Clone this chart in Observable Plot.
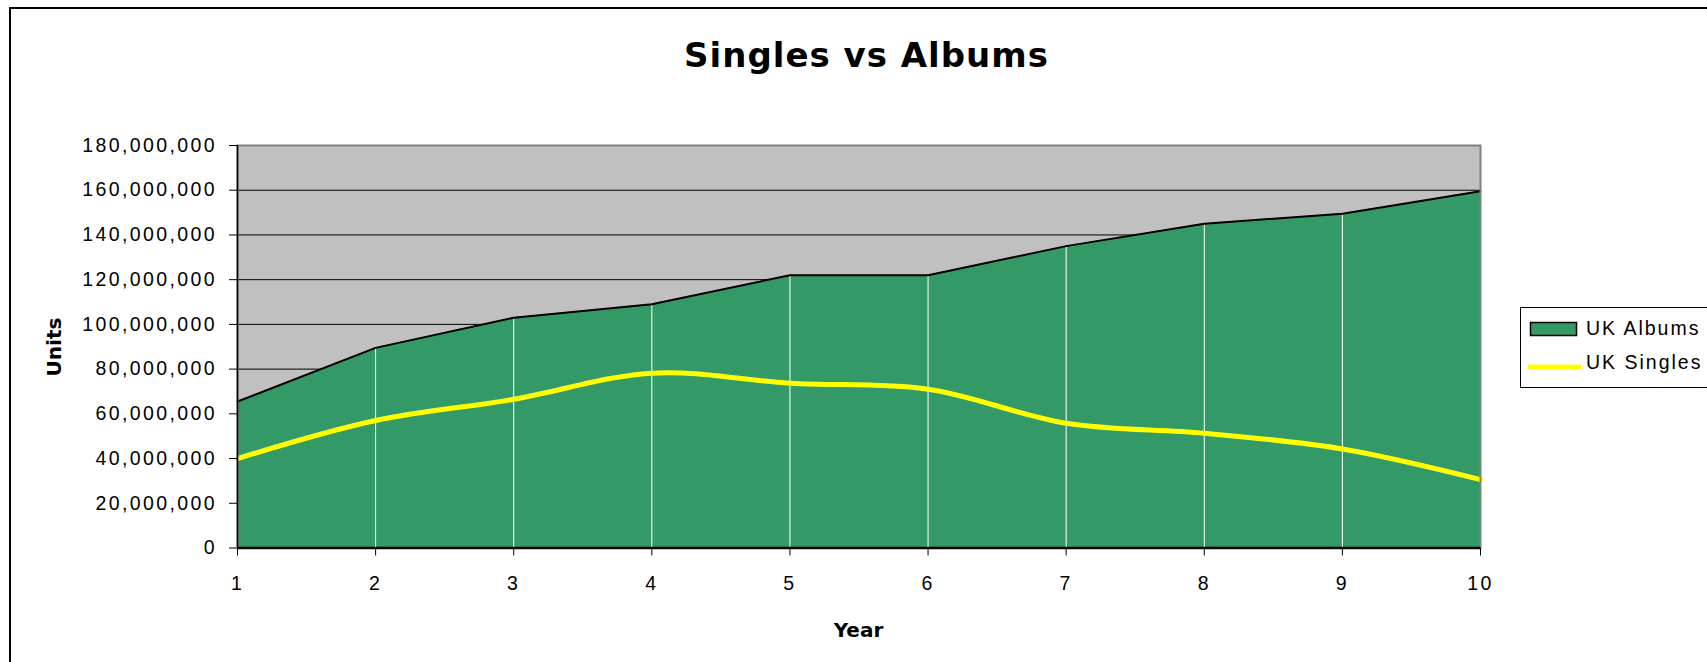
<!DOCTYPE html>
<html>
<head>
<meta charset="utf-8">
<script src="https://cdn.jsdelivr.net/npm/d3@7"></script>
<script src="https://cdn.jsdelivr.net/npm/@observablehq/plot@0.6"></script>
<style>
  html, body { margin: 0; padding: 0; background: #fff; }
  #wrap { position: relative; width: 1707px; height: 662px; overflow: hidden; }
  #wrap > svg { position: absolute; left: 0; top: 0; }
</style>
</head>
<body>
<div id="wrap"></div>
<script>
// ---- Data ----
const years = [1, 2, 3, 4, 5, 6, 7, 8, 9, 10];
const ukAlbums = [65.5e6, 89.5e6, 103e6, 109e6, 122e6, 122e6, 135e6, 145e6, 149.5e6, 159.5e6];
const ukSingles = [40e6, 57e6, 66.5e6, 78.2e6, 73.7e6, 71e6, 55.8e6, 51.3e6, 44.3e6, 30.6e6];
const yTicks = [0, 20e6, 40e6, 60e6, 80e6, 100e6, 120e6, 140e6, 160e6, 180e6];
const seriesNames = ["UK Albums", "UK Singles"];
const chartTitle = "Singles vs Albums";
const xLabel = "Year";
const yLabel = "Units";

const albumsColor = "#339966";
const singlesColor = "#FFFF00";

const data = years.map((year, i) => ({year, albums: ukAlbums[i], singles: ukSingles[i]}));
const fmt = d3.format(",");

const chart = Plot.plot({
  width: 1707,
  height: 662,
  marginLeft: 237,
  marginRight: 227,
  marginTop: 145,
  marginBottom: 114.5,
  x: {domain: [1, 10], label: null},
  y: {domain: [0, 180e6], label: null},
  style: {
    fontFamily: "'Liberation Sans', Arial, sans-serif",
    fontSize: "19.5px",
    letterSpacing: "2.4px",
    background: "transparent",
    color: "#000",
    overflow: "visible"
  },
  marks: [
    Plot.frame({fill: "#C0C0C0", stroke: null}),
    Plot.ruleY(yTicks.filter(d => d > 0 && d < 180e6), {stroke: "#000", strokeWidth: 1}),
    Plot.areaY(data, {x: "year", y: "albums", fill: albumsColor}),
    Plot.ruleX(data.filter(d => d.year > 1 && d.year < 10), {x: "year", y1: 0, y2: "albums", stroke: "#fff", strokeWidth: 1}),
    Plot.lineY(data, {x: "year", y: "albums", stroke: "#000", strokeWidth: 2}),
    Plot.lineY(data, {x: "year", y: "singles", stroke: singlesColor, strokeWidth: 5, curve: "catmull-rom"}),
    Plot.frame({stroke: "#808080", strokeWidth: 2}),
    Plot.axisY({ticks: yTicks, tickFormat: fmt, tickSize: 8, tickPadding: 12.5, label: null, stroke: "#000"}),
    Plot.axisX({ticks: years, tickFormat: d => String(d), tickSize: 8, tickPadding: 20, label: null, stroke: "#000"}),
    Plot.ruleX([1], {stroke: "#000", strokeWidth: 1.5}),
    Plot.ruleY([0], {stroke: "#000", strokeWidth: 2.5})
  ]
});

const wrap = document.getElementById("wrap");
wrap.appendChild(chart);

// ---- Overlay: border, title, axis titles, legend ----
const ov = d3.create("svg")
  .attr("width", 1707)
  .attr("height", 662)
  .style("pointer-events", "none");

// chart area border (extends beyond the visible window on right/bottom)
ov.append("path")
  .attr("d", "M10,700 V8 H1750")
  .attr("fill", "none")
  .attr("stroke", "#000")
  .attr("stroke-width", 2);

const boldFont = "'DejaVu Sans', Verdana, sans-serif";
const bodyFont = "'Liberation Sans', Arial, sans-serif";

ov.append("text")
  .attr("x", 866.5).attr("y", 66.7)
  .attr("text-anchor", "middle")
  .attr("font-family", boldFont)
  .attr("font-weight", "bold")
  .attr("font-size", 34)
  .attr("letter-spacing", "1px")
  .text(chartTitle);

ov.append("text")
  .attr("x", 858.5).attr("y", 636.7)
  .attr("text-anchor", "middle")
  .attr("font-family", boldFont)
  .attr("font-weight", "bold")
  .attr("font-size", 20)
  .text(xLabel);

ov.append("text")
  .attr("transform", "translate(61,347) rotate(-90)")
  .attr("text-anchor", "middle")
  .attr("font-family", boldFont)
  .attr("font-weight", "bold")
  .attr("font-size", 20)
  .text(yLabel);

// legend
const lg = ov.append("g");
lg.append("rect")
  .attr("x", 1520.5).attr("y", 307.5)
  .attr("width", 220).attr("height", 80)
  .attr("fill", "#fff")
  .attr("stroke", "#000")
  .attr("stroke-width", 1);
lg.append("rect")
  .attr("x", 1530.5).attr("y", 322.5)
  .attr("width", 46).attr("height", 13)
  .attr("fill", albumsColor)
  .attr("stroke", "#000")
  .attr("stroke-width", 1.5);
lg.append("line")
  .attr("x1", 1528).attr("x2", 1581)
  .attr("y1", 367).attr("y2", 367)
  .attr("stroke", singlesColor)
  .attr("stroke-width", 5);
lg.selectAll("text.lab")
  .data(seriesNames)
  .join("text")
  .attr("class", "lab")
  .attr("x", 1586)
  .attr("y", (d, i) => [335, 369][i])
  .attr("font-family", bodyFont)
  .attr("font-size", 19.5)
  .attr("letter-spacing", "2px")
  .text(d => d);

wrap.appendChild(ov.node());
</script>
</body>
</html>
